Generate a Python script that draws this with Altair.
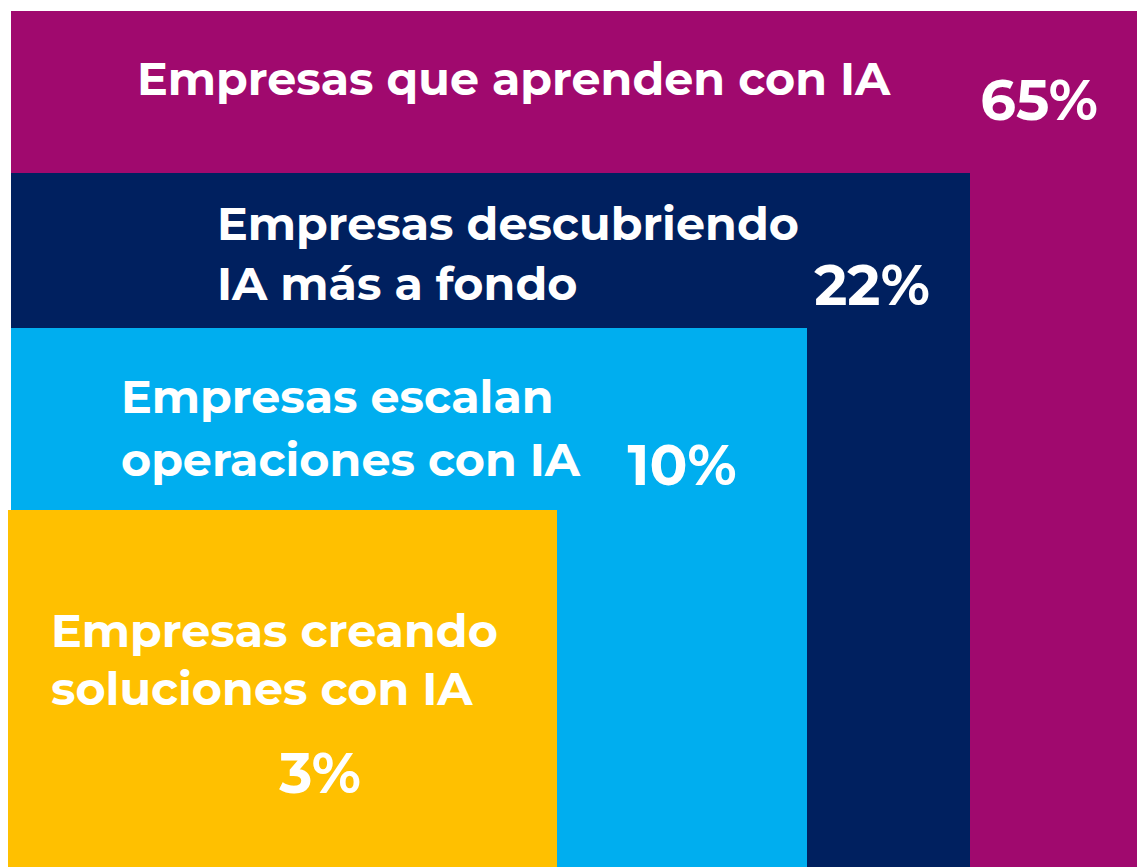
import altair as alt
import pandas as pd

# Categories and values
categories = [
    "Empresas que aprenden con IA",
    "Empresas descubriendo IA más a fondo",
    "Empresas escalan operaciones con IA",
    "Empresas creando soluciones con IA",
]
label_lines = [
    ["Empresas que aprenden con IA"],
    ["Empresas descubriendo", "IA más a fondo"],
    ["Empresas escalan", "operaciones con IA"],
    ["Empresas creando", "soluciones con IA"],
]
percent_values = [65, 22, 10, 3]
colors = ["#A0096E", "#00205F", "#00AEEF", "#FFC000"]

# Layout of the nested boxes (in chart units, origin bottom-left)
box_left = [3, 3, 3, 0]
box_right = [1129, 962, 799, 549]
box_top = [856, 694, 539, 357]

# Label anchors (left x, first baseline y, line step)
label_x = [129, 209, 113, 43]
label_y = [772, 627, 454, 220]
line_step = [0, 60, 63, 58]
pct_x = [1031, 864, 674, 312]
pct_y = [747, 562, 382, 74]

W, H = 1129, 859

boxes = pd.DataFrame({
    "cat": categories,
    "x0": box_left,
    "x1": box_right,
    "y0": [0, 0, 0, 0],
    "y1": box_top,
    "order": [0, 1, 2, 3],
})

rows = []
for i, lines in enumerate(label_lines):
    for j, line in enumerate(lines):
        rows.append({"text": line, "x": label_x[i], "y": label_y[i] - j * line_step[i]})
labels = pd.DataFrame(rows)

pcts = pd.DataFrame({
    "text": [f"{v}%" for v in percent_values],
    "x": pct_x,
    "y": pct_y,
})

xs = alt.Scale(domain=[0, W], nice=False, zero=False)
ys = alt.Scale(domain=[0, H], nice=False, zero=False)

rects = alt.Chart(boxes).mark_rect().encode(
    x=alt.X("x0:Q", scale=xs, axis=None),
    x2="x1:Q",
    y=alt.Y("y0:Q", scale=ys, axis=None),
    y2="y1:Q",
    color=alt.Color("cat:N", scale=alt.Scale(domain=categories, range=colors), legend=None),
    order=alt.Order("order:Q"),
)

font = "Montserrat, DejaVu Sans"

text1 = alt.Chart(labels).mark_text(
    align="left", baseline="alphabetic", color="white", font=font,
    fontWeight="bold", fontSize=46,
).encode(
    x=alt.X("x:Q", scale=xs, axis=None),
    y=alt.Y("y:Q", scale=ys, axis=None),
    text="text:N",
)

text2 = alt.Chart(pcts).mark_text(
    align="center", baseline="alphabetic", color="white", font=font,
    fontWeight="bold", fontSize=56,
).encode(
    x=alt.X("x:Q", scale=xs, axis=None),
    y=alt.Y("y:Q", scale=ys, axis=None),
    text="text:N",
)

chart = alt.layer(rects, text1, text2).properties(
    width=W, height=H, padding=0,
    autosize=alt.AutoSizeParams(type="none"),
).configure_view(stroke=None)

chart.save("out.html", embed_options={"renderer": "svg", "actions": False})
